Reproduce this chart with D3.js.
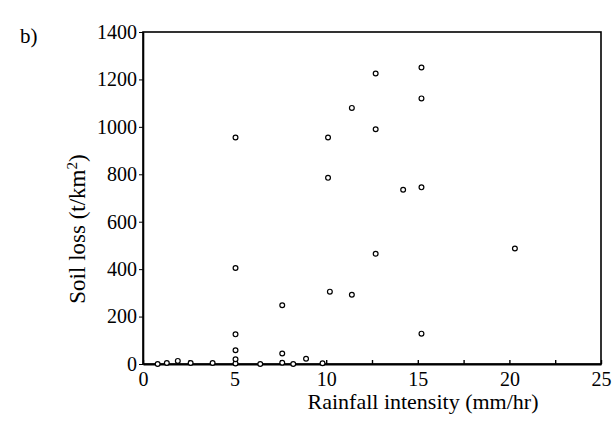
<!DOCTYPE html>
<html>
<head>
<meta charset="utf-8">
<script src="https://cdn.jsdelivr.net/npm/d3@7"></script>
<style>
  body { margin: 0; background: #fff; }
  text { font-family: "Liberation Serif", "Times New Roman", serif; fill: #000; }
</style>
</head>
<body>
<div id="chart"></div>
<script>
// rainfall intensity (mm/hr) and soil loss (t/km2)
const rainfall = [0.8, 1.3, 1.9, 2.6, 3.8, 5.05, 5.05, 5.05, 5.05, 5.05, 5.05, 6.4, 7.6, 7.6, 7.6, 8.2,
  8.9, 9.8, 10.1, 10.1, 10.2, 11.4, 11.4, 12.7, 12.7, 12.7, 14.2, 15.2, 15.2, 15.2, 15.2, 20.3]
const soilLoss = [0, 4, 13, 4, 4, 2, 20, 58, 125, 405, 955, 0, 5, 44, 248, 0,
  22, 3, 955, 785, 305, 1080, 292, 1225, 990, 465, 735, 1250, 1120, 745, 128, 487]
const xTicks = [0, 2.5, 5, 7.5, 10, 12.5, 15, 17.5, 20, 22.5, 25]
const yTicks = [0, 200, 400, 600, 800, 1000, 1200, 1400]

const data = rainfall.map((r, i) => ({ x: r, y: soilLoss[i] }))

const W = 613, H = 426
const margin = { top: 32, right: 12, bottom: 62, left: 143 }
const width = W - margin.left - margin.right
const height = H - margin.top - margin.bottom

const root = d3.select('#chart').append('svg')
  .attr('width', W)
  .attr('height', H)

const svg = root.append('g')
  .attr('transform', `translate(${margin.left}, ${margin.top})`)

const x = d3.scaleLinear().domain([0, 25]).range([0, width])
const y = d3.scaleLinear().domain([0, 1400]).range([height, 0])

// frame
svg.append('rect')
  .attr('width', width)
  .attr('height', height)
  .style('fill', 'none')
  .style('stroke', '#000')
  .style('stroke-width', 1.6)

/* X axis: small inward ticks, labels every 5 */
const xAxis = d3.axisBottom(x)
  .tickValues(xTicks)
  .tickSizeInner(-4)
  .tickSizeOuter(0)
  .tickPadding(8)
  .tickFormat(d => d % 5 === 0 ? d3.format('d')(d) : '')

const gx = svg.append('g')
  .attr('transform', `translate(0, ${height})`)
  .call(xAxis)
gx.select('.domain').style('stroke-width', 2)
gx.selectAll('.tick line').style('stroke-width', 1.4)
gx.selectAll('text').style('font-size', '20px')

/* Y axis: short outward ticks */
const yAxis = d3.axisLeft(y)
  .tickValues(yTicks)
  .tickSizeInner(4)
  .tickSizeOuter(0)
  .tickPadding(2)
  .tickFormat(d3.format('d'))

const gy = svg.append('g').call(yAxis)
gy.select('.domain').style('stroke-width', 1.6)
gy.selectAll('text').style('font-size', '20px')

// points
svg.selectAll('circle')
  .data(data)
  .enter()
  .append('circle')
  .attr('cx', d => x(d.x))
  .attr('cy', d => y(d.y))
  .attr('r', 2.4)
  .style('fill', '#fff')
  .style('stroke', '#000')
  .style('stroke-width', 1.2)

// axis titles
root.append('text')
  .attr('x', 423)
  .attr('y', 409)
  .style('text-anchor', 'middle')
  .style('font-size', '22px')
  .text('Rainfall intensity (mm/hr)')

const yl = root.append('text')
  .attr('transform', 'translate(85, 229) rotate(-90)')
  .style('text-anchor', 'middle')
  .style('font-size', '23px')
yl.append('tspan').text('Soil loss (t/km')
yl.append('tspan').attr('dy', -8).style('font-size', '15px').text('2')
yl.append('tspan').attr('dy', 8).text(')')

// panel letter
root.append('text')
  .attr('x', 20)
  .attr('y', 43)
  .style('font-size', '21px')
  .text('b)')
</script>
</body>
</html>
